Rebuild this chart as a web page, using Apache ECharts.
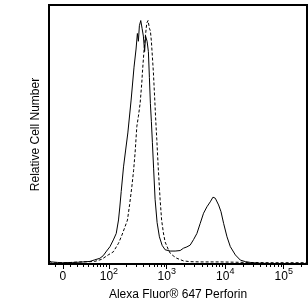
<!DOCTYPE html>
<html>
<head>
<meta charset="utf-8">
<script src="https://cdn.jsdelivr.net/npm/echarts@6/dist/echarts.min.js"></script>
<style>
  html, body { margin: 0; padding: 0; background: #fff; }
  #chart { width: 308px; height: 306px; }
</style>
</head>
<body>
<div id="chart"></div>
<script>
// fluorescence values (raw units) and relative counts
const solidX = [-19, -15, -6.6, 0, 13.5, 24, 43, 54, 68, 78.6, 90.7, 104.5, 120, 135, 148, 156, 165, 181, 197, 215,
  245, 275, 298, 314, 327, 340, 359, 378, 398, 418, 434, 461, 485, 505, 525, 546, 568, 596, 632, 684,
  749, 834, 938, 1143, 1393, 1697, 1932, 2211, 2518, 2871, 3281, 3738, 4259, 4871, 5546, 6170, 6760,
  7700, 8466, 9380, 10720, 12220, 14900, 18150, 22120, 26930, 36940, 59350, 130600, 250000];
const solidY = [1.2, 0.8, 0.6, 0.5, 0.6, 0.7, 1.0, 1.6, 2.2, 3.2, 5.0, 6.7, 9.3, 11.8, 17, 22, 28, 37.5, 44, 50.6,
  63.3, 76, 83, 89, 86, 92, 94, 91, 88, 82, 88, 86, 82, 72, 62, 55, 47, 37, 25, 16,
  10.5, 7.2, 5.5, 5.0, 5.0, 5.2, 6.1, 6.6, 7.3, 9.4, 11.8, 15.7, 19.6, 22.1, 24, 25.8, 25.4,
  22.8, 20.2, 15.7, 10.5, 6.7, 3.5, 1.5, 0.9, 0.6, 0.3, 0.2, 0.2, 0.2];

const dashedX = [-19, 0, 24, 43, 54, 73.4, 97, 120, 148, 170, 193, 212, 231, 252, 270, 287, 307, 327, 350, 374,
  386, 409, 431, 455, 479, 505, 525, 546, 568, 591, 625, 650, 676, 720, 770, 817, 877, 938, 1069, 1143,
  1287, 1489, 1932, 2518, 3738, 8236, 23650, 59350, 250000];
const dashedY = [0.4, 0.4, 0.8, 0.9, 1.0, 1.8, 3.5, 4.7, 8, 11.2, 14.5, 17, 23, 29.8, 36, 43, 53, 57, 62, 70,
  75, 82.6, 88, 93, 94, 91, 90, 86, 80, 74, 63, 55, 48, 36, 25, 17, 12, 8.5, 5.5, 4.2,
  3.2, 2.2, 1.2, 0.9, 0.8, 0.8, 0.6, 0.5, 0.5];

const majorTicks = [0, 100, 1000, 10000, 100000];
const tickLabels = ['{b|0}', '{b|10}{s|2}', '{b|10}{s|3}', '{b|10}{s|4}', '{b|10}{s|5}'];
const minorTicks = [-10, 10, 20, 30, 40, 50, 60, 70, 80, 90,
  200, 300, 400, 500, 600, 700, 800, 900,
  2000, 3000, 4000, 5000, 6000, 7000, 8000, 9000,
  20000, 30000, 40000, 50000, 60000, 70000, 80000, 90000, 200000];

const X_MIN_RAW = -19;
const X_MAX_RAW = 250000;

// biexponential-like display scale (linear near zero, log10 above ~100)
const W = 16.7;
function bx(v) { return Math.asinh(v / (2 * W)) / Math.LN10 + Math.log10(W); }

const xMin = bx(X_MIN_RAW);
const xMax = bx(X_MAX_RAW);
const majorPos = majorTicks.map(bx);
const minorPos = minorTicks.map(bx);

const FONT = "'Liberation Sans', Arial, sans-serif";

const chart = echarts.init(document.getElementById('chart'), null, { renderer: 'canvas' });

chart.setOption({
  animation: false,
  backgroundColor: '#fff',
  grid: {
    left: 49, right: 1, top: 5, bottom: 42,
    show: true, borderColor: '#000', borderWidth: 2, backgroundColor: 'transparent'
  },
  xAxis: [
    {
      type: 'value', min: xMin, max: xMax, position: 'bottom',
      name: 'Alexa Fluor® 647 Perforin', nameLocation: 'middle', nameGap: 25,
      nameTextStyle: { fontFamily: FONT, fontSize: 12, color: '#000' },
      axisLine: { show: false },
      splitLine: { show: false },
      axisTick: { show: true, inside: false, length: 5, customValues: majorPos, lineStyle: { color: '#000', width: 1 } },
      axisLabel: {
        show: true, margin: 3, customValues: majorPos,
        formatter: function (val) {
          let best = 0;
          for (let i = 1; i < majorPos.length; i++) {
            if (Math.abs(majorPos[i] - val) < Math.abs(majorPos[best] - val)) best = i;
          }
          return tickLabels[best];
        },
        rich: {
          b: { fontFamily: FONT, fontSize: 12, color: '#000', lineHeight: 16, verticalAlign: 'bottom' },
          s: { fontFamily: FONT, fontSize: 9, color: '#000', lineHeight: 10, verticalAlign: 'top' }
        }
      }
    },
    {
      type: 'value', min: xMin, max: xMax, position: 'bottom', offset: 0,
      axisLine: { show: false },
      splitLine: { show: false },
      axisLabel: { show: false },
      axisTick: { show: true, inside: false, length: 3, customValues: minorPos, lineStyle: { color: '#000', width: 1 } }
    }
  ],
  yAxis: {
    type: 'value', min: 0, max: 100,
    name: 'Relative Cell Number', nameLocation: 'middle', nameGap: 7,
    nameTextStyle: { fontFamily: FONT, fontSize: 12, color: '#000' },
    axisLine: { show: false }, axisTick: { show: false },
    axisLabel: { show: false }, splitLine: { show: false }
  },
  series: [
    {
      name: 'isotype', type: 'line', xAxisIndex: 0, showSymbol: false, silent: true,
      data: dashedX.map((v, i) => [bx(v), dashedY[i]]),
      lineStyle: { color: '#000', width: 1, type: [3, 2] }
    },
    {
      name: 'perforin', type: 'line', xAxisIndex: 0, showSymbol: false, silent: true,
      data: solidX.map((v, i) => [bx(v), solidY[i]]),
      lineStyle: { color: '#000', width: 1 }
    }
  ]
});
</script>
</body>
</html>
